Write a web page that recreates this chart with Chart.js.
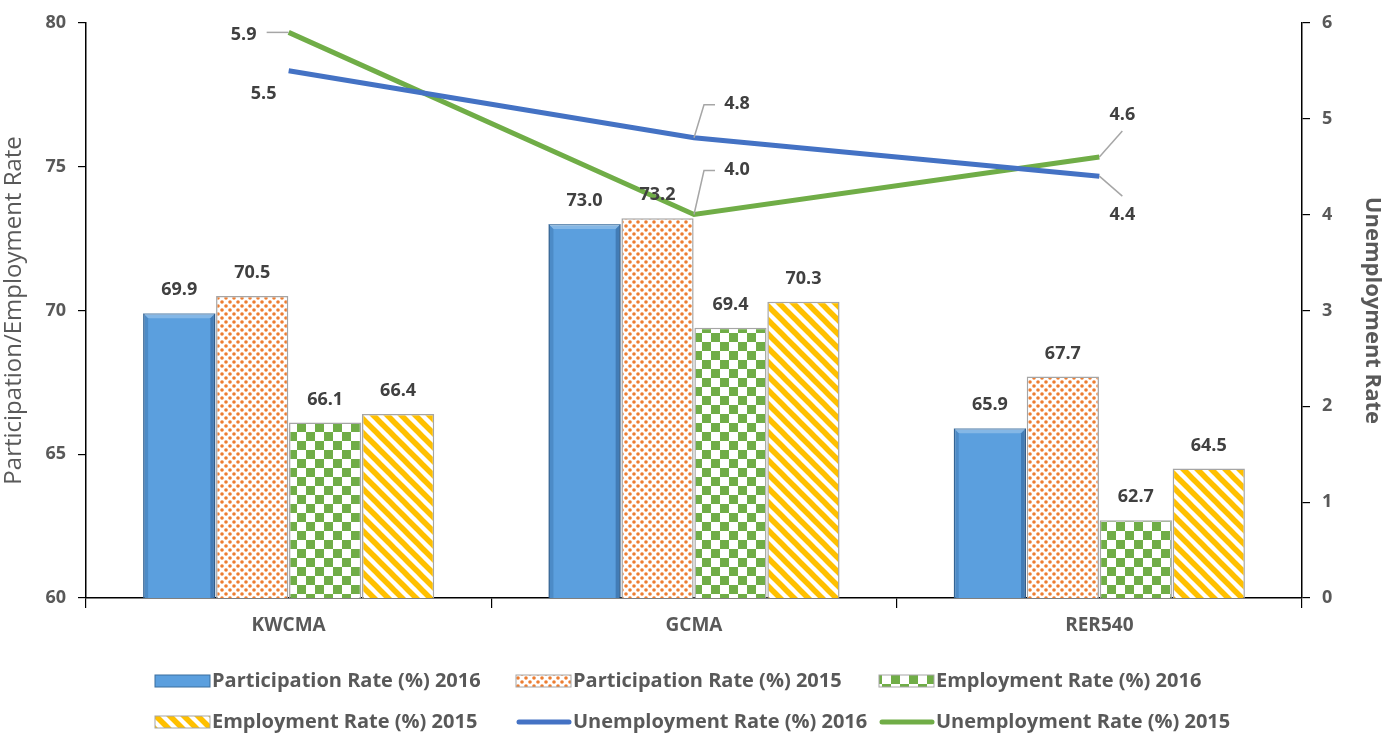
<!DOCTYPE html>
<html>
<head>
<meta charset="utf-8">
<script src="https://cdn.jsdelivr.net/npm/chart.js@4.4.1/dist/chart.umd.min.js"></script>
<style>
  html, body { margin: 0; padding: 0; background: #fff; }
  #wrap { width: 1385px; height: 738px; position: relative; }
</style>
</head>
<body>
<div id="wrap"><canvas id="chart"></canvas></div>
<script>
// data
const regions = ['KWCMA', 'GCMA', 'RER540'];
const partRate2016 = [69.9, 73.0, 65.9];
const partRate2015 = [70.5, 73.2, 67.7];
const empRate2016  = [66.1, 69.4, 62.7];
const empRate2015  = [66.4, 70.3, 64.5];
const unempRate2016 = [5.5, 4.8, 4.4];
const unempRate2015 = [5.9, 4.0, 4.6];
const leftTicks  = [60, 65, 70, 75, 80];
const rightTicks = [0, 1, 2, 3, 4, 5, 6];

const FONT = 'Open Sans';
const GREY = '#595959';
const LABEL = '#404040';

// --- fill patterns ---
function makeTile(w, h, paint) {
  const c = document.createElement('canvas');
  c.width = w; c.height = h;
  const g = c.getContext('2d');
  g.fillStyle = '#fff';
  g.fillRect(0, 0, w, h);
  paint(g);
  return g.createPattern(c, 'repeat');
}
const dotsFill = makeTile(8, 8, g => {
  g.fillStyle = '#ED7D31';
  [[2, 2], [6, 6]].forEach(([x, y]) => { g.beginPath(); g.arc(x, y, 1.8, 0, Math.PI * 2); g.fill(); });
});
const checkFill = makeTile(18, 18, g => {
  g.fillStyle = '#70AD47';
  g.fillRect(0, 0, 9, 9);
  g.fillRect(9, 9, 9, 9);
});
const stripeFill = makeTile(14, 14, g => {
  g.strokeStyle = '#FFC000';
  g.lineWidth = 5.5;
  for (let k = -14; k <= 14; k += 14) {
    g.beginPath(); g.moveTo(k - 2, -2); g.lineTo(k + 16, 16); g.stroke();
  }
});

// label placement for the line values (offsets from the point, px)
const lineLabelPos = {
  4: [ { dx: -25, dy: 23 }, { dx: 43, dy: -34, leader: 'elbow' }, { dx: 23, dy: 39, leader: 'diag' } ],
  5: [ { dx: -45, dy: 2, leader: 'left' }, { dx: 43, dy: -45, leader: 'elbow' }, { dx: 23, dy: -42, leader: 'diag' } ]
};

const valueLabels = {
  id: 'valueLabels',
  afterDatasetsDraw(chart) {
    const ctx = chart.ctx;
    ctx.save();
    ctx.font = `bold 18px "${FONT}"`;
    ctx.fillStyle = LABEL;
    ctx.textAlign = 'center';
    ctx.textBaseline = 'middle';
    chart.data.datasets.forEach((ds, di) => {
      const meta = chart.getDatasetMeta(di);
      meta.data.forEach((el, i) => {
        const txt = ds.data[i].toFixed(1);
        if (ds.type === 'line') {
          const p = lineLabelPos[di][i];
          const lx = el.x + p.dx, ly = el.y + p.dy;
          ctx.strokeStyle = '#A6A6A6';
          ctx.lineWidth = 1.5;
          ctx.beginPath();
          if (p.leader === 'left') {
            ctx.moveTo(el.x, el.y); ctx.lineTo(el.x - 22, el.y);
          } else if (p.leader === 'elbow') {
            ctx.moveTo(el.x, el.y); ctx.lineTo(el.x + 10, ly + 1); ctx.lineTo(el.x + 21, ly + 1);
          } else if (p.leader === 'diag') {
            ctx.moveTo(el.x, el.y); ctx.lineTo(lx, ly + (p.dy > 0 ? -19 : 16));
          }
          if (p.leader) ctx.stroke();
          ctx.fillText(txt, lx, ly);
        } else {
          ctx.fillText(txt, el.x, el.y - 23);
        }
      });
    });
    ctx.restore();
  }
};

// bevel look on the plain blue bars
const blueBevel = {
  id: 'blueBevel',
  afterDatasetDraw(chart, args) {
    if (args.index !== 0) return;
    const ctx = chart.ctx;
    const b = chart.chartArea.bottom;
    ctx.save();
    args.meta.data.forEach(el => {
      const l = el.x - el.width / 2, r = el.x + el.width / 2, t = el.y;
      const e = 5;
      ctx.fillStyle = 'rgba(255,255,255,0.25)';
      ctx.beginPath(); ctx.moveTo(l, t); ctx.lineTo(r, t); ctx.lineTo(r - e, t + e); ctx.lineTo(l + e, t + e); ctx.closePath(); ctx.fill();
      ctx.fillStyle = 'rgba(20,60,110,0.35)';
      ctx.beginPath(); ctx.moveTo(r, t); ctx.lineTo(r, b); ctx.lineTo(r - e, b); ctx.lineTo(r - e, t + e); ctx.closePath(); ctx.fill();
      ctx.fillStyle = 'rgba(20,60,110,0.2)';
      ctx.beginPath(); ctx.moveTo(l, t); ctx.lineTo(l + e, t + e); ctx.lineTo(l + e, b); ctx.lineTo(l, b); ctx.closePath(); ctx.fill();
    });
    ctx.restore();
  }
};

// legend laid out as a 3x2 grid like the original
const gridLegend = {
  id: 'gridLegend',
  afterDraw(chart) {
    const ctx = chart.ctx;
    const cols = [155, 516, 879];
    const rows = [681, 722];
    ctx.save();
    ctx.font = `bold 20px "${FONT}"`;
    ctx.textBaseline = 'middle';
    chart.data.datasets.forEach((ds, i) => {
      const x = cols[i % 3], y = rows[Math.floor(i / 3)];
      if (ds.type === 'line') {
        ctx.strokeStyle = ds.borderColor;
        ctx.lineWidth = 5;
        ctx.lineCap = 'round';
        ctx.beginPath(); ctx.moveTo(x + 3, y); ctx.lineTo(x + 53, y); ctx.stroke();
      } else {
        ctx.fillStyle = ds.backgroundColor;
        ctx.fillRect(x, y - 6, 55, 12);
        ctx.strokeStyle = ds.borderColor;
        ctx.lineWidth = 1;
        ctx.strokeRect(x, y - 6, 55, 12);
      }
      ctx.fillStyle = GREY;
      ctx.fillText(ds.label, x + 57, y);
    });
    ctx.restore();
  }
};

const tickFont = { family: FONT, size: 18, weight: 'bold' };

new Chart(document.getElementById('chart'), {
  type: 'bar',
  data: {
    labels: regions,
    datasets: [
      { label: 'Participation Rate (%) 2016', data: partRate2016, backgroundColor: '#5B9FDE', borderColor: '#3B6E9E', borderWidth: 1.5, yAxisID: 'y', order: 2 },
      { label: 'Participation Rate (%) 2015', data: partRate2015, backgroundColor: dotsFill, borderColor: '#A5A5A5', borderWidth: 1.5, yAxisID: 'y', order: 2 },
      { label: 'Employment Rate (%) 2016', data: empRate2016, backgroundColor: checkFill, borderColor: '#A5A5A5', borderWidth: 1.5, yAxisID: 'y', order: 2 },
      { label: 'Employment Rate (%) 2015', data: empRate2015, backgroundColor: stripeFill, borderColor: '#A5A5A5', borderWidth: 1.5, yAxisID: 'y', order: 2 },
      { type: 'line', label: 'Unemployment Rate (%) 2016', data: unempRate2016, borderColor: '#4472C4', borderWidth: 5, pointRadius: 0, yAxisID: 'y1', order: 0 },
      { type: 'line', label: 'Unemployment Rate (%) 2015', data: unempRate2015, borderColor: '#70AD47', borderWidth: 5, pointRadius: 0, yAxisID: 'y1', order: 0 }
    ]
  },
  options: {
    responsive: true,
    maintainAspectRatio: false,
    animation: false,
    datasets: { bar: { categoryPercentage: 0.72, barPercentage: 0.99 } },
    layout: { padding: { top: 18, bottom: 90, left: 0, right: 0 } },
    plugins: {
      legend: { display: false },
      tooltip: { enabled: false }
    },
    scales: {
      x: {
        ticks: { color: GREY, font: { family: FONT, size: 19, weight: 'bold' }, padding: 6 },
        grid: { drawOnChartArea: false, offset: true, tickLength: 10, color: '#000', lineWidth: 1.2 },
        border: { color: '#000', width: 1.5 },
        afterFit: s => { s.height = 50; }
      },
      y: {
        position: 'left',
        min: 60, max: 80,
        afterBuildTicks: s => { s.ticks = leftTicks.map(v => ({ value: v })); },
        ticks: { color: GREY, font: tickFont, padding: 12 },
        grid: { drawOnChartArea: false, tickLength: 8, color: '#000', lineWidth: 1.2 },
        border: { color: '#000', width: 1.5 },
        title: { display: true, text: 'Participation/Employment Rate', color: GREY, font: { family: FONT, size: 24 }, padding: { top: 0, bottom: 0 } },
        afterFit: s => { s.width = 86; }
      },
      y1: {
        position: 'right',
        min: 0, max: 6,
        afterBuildTicks: s => { s.ticks = rightTicks.map(v => ({ value: v })); },
        ticks: { color: GREY, font: tickFont, padding: 12 },
        grid: { drawOnChartArea: false, tickLength: 8, color: '#000', lineWidth: 1.2 },
        border: { color: '#000', width: 1.5 },
        title: { display: true, text: 'Unemployment Rate', color: GREY, font: { family: FONT, size: 22, weight: 'bold' }, padding: { top: 0, bottom: 4 } },
        afterFit: s => { s.width = 83; }
      }
    }
  },
  plugins: [valueLabels, blueBevel, gridLegend]
});
</script>
</body>
</html>
